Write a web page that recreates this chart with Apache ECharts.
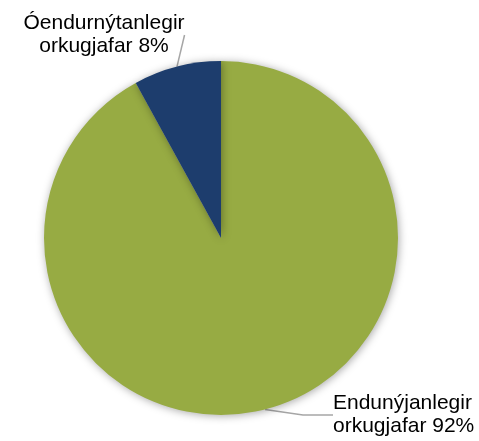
<!DOCTYPE html>
<html>
<head>
<meta charset="utf-8">
<script src="https://cdn.jsdelivr.net/npm/echarts@6/dist/echarts.min.js"></script>
<style>
  html, body { margin: 0; padding: 0; background: #fff; }
  #main { width: 479px; height: 441px; }
</style>
</head>
<body>
<div id="main"></div>
<script>
// gögn
const categories = ["Endunýjanlegir\norkugjafar", "Óendurnýtanlegir\norkugjafar"];
const values = [92, 8];
const colors = ["#97ab43", "#1d3d6d"];

const chart = echarts.init(document.getElementById("main"));

// label positions (text anchor), by data index
const labelPos = [
  { x: 333, y: 415, align: "left" },
  { x: 104, y: 35, align: "center" }
];

const option = {
  animation: false,
  series: [
    {
      type: "pie",
      center: [221, 238],
      radius: 177,
      startAngle: 90,
      clockwise: true,
      data: categories.map(function (c, i) {
        return { name: c, value: values[i], itemStyle: { color: colors[i] } };
      }),
      itemStyle: {
        shadowBlur: 8,
        shadowColor: "rgba(0,0,0,0.35)",
        shadowOffsetX: 1,
        shadowOffsetY: 1
      },
      label: {
        show: true,
        position: "outside",
        formatter: "{b} {c}%",
        fontFamily: "Liberation Sans, Arial, sans-serif",
        fontSize: 21,
        lineHeight: 23,
        color: "#000",
        overflow: "none"
      },
      labelLine: {
        show: true,
        lineStyle: { color: "#a6a6a6", width: 1.5 }
      },
      labelLayout: function (params) {
        const p = labelPos[params.dataIndex];
        return { x: p.x, y: p.y, align: p.align, verticalAlign: "middle" };
      }
    }
  ]
};

chart.setOption(option);
</script>
</body>
</html>
